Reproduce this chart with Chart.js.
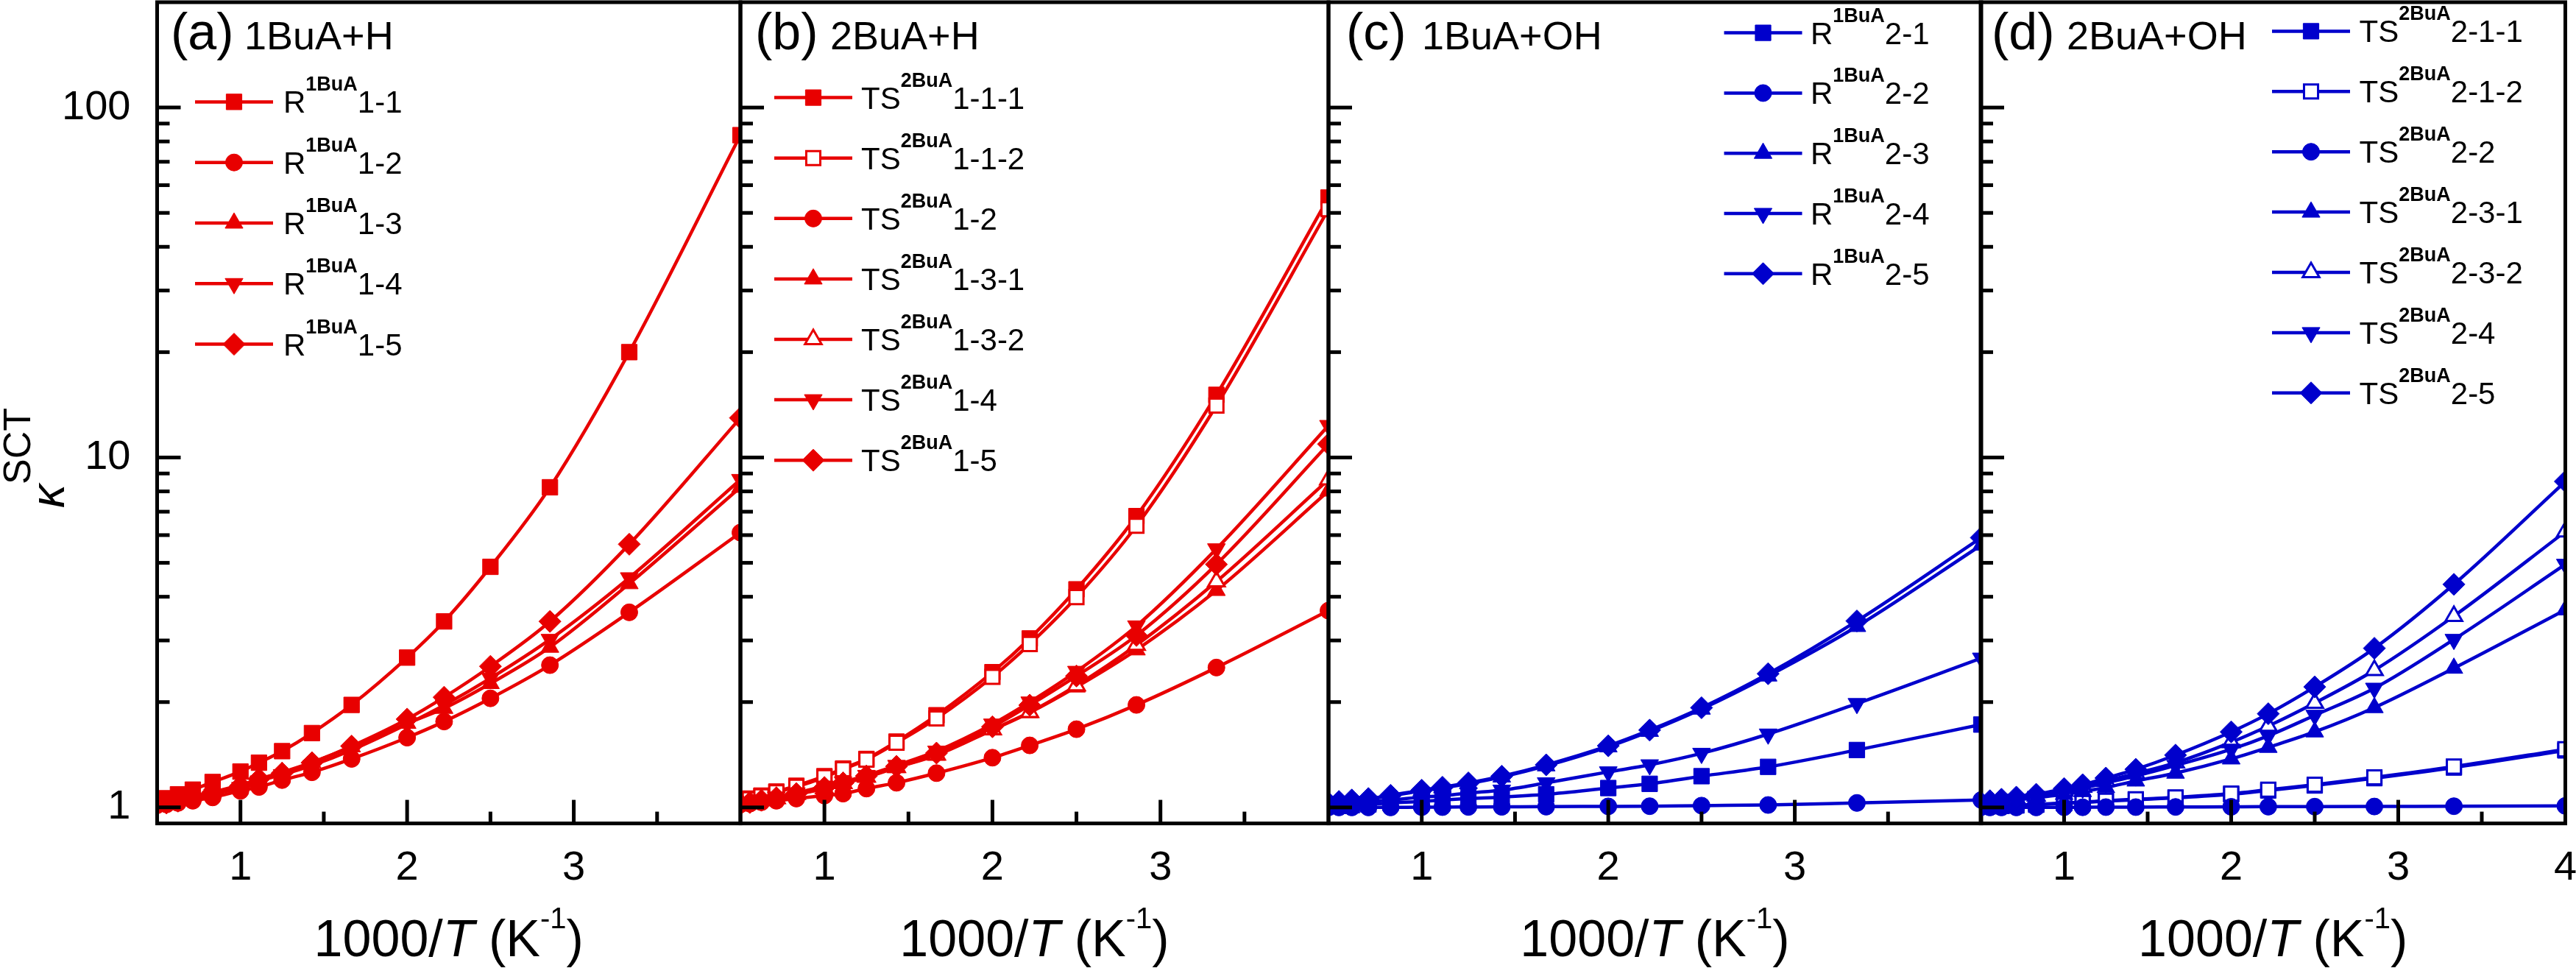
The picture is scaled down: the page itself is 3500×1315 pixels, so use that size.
<!DOCTYPE html>
<html lang="en">
<head>
    <meta charset="UTF-8">
    <title>Tunneling coefficients vs 1000/T</title>
    <script src="https://cdn.jsdelivr.net/npm/chart.js@4.4.1/dist/chart.umd.min.js"></script>
    <style>
        body { margin: 0; background: #fff; }
        #wrap { position: relative; width: 3500px; height: 1315px; overflow: hidden; }
        #wrap canvas { position: absolute; left: 0; top: 0; }
    </style>
</head>
<body>
    <div id="wrap">
        <canvas id="pa" width="3500" height="1315"></canvas>
        <canvas id="pb" width="3500" height="1315"></canvas>
        <canvas id="pc" width="3500" height="1315"></canvas>
        <canvas id="pd" width="3500" height="1315"></canvas>
    </div>

    <script>
        // 1000/T (K^-1) for T = 2000 ... 250 K
        const invT = [0.5, 0.556, 0.625, 0.714, 0.833, 1.0, 1.111, 1.25, 1.429, 1.667, 2.0, 2.222, 2.5, 2.857, 3.333, 4.0];

        // (a) 1BuA+H
        const kA11 = [1.04, 1.062, 1.09, 1.124, 1.182, 1.266, 1.342, 1.448, 1.631, 1.963, 2.68, 3.40, 4.87, 8.22, 20.0, 83.4];
        const kA12 = [1.015, 1.02, 1.03, 1.045, 1.068, 1.115, 1.144, 1.197, 1.26, 1.376, 1.583, 1.76, 2.05, 2.55, 3.61, 6.10];
        const kA13 = [1.02, 1.035, 1.05, 1.075, 1.105, 1.16, 1.205, 1.26, 1.345, 1.49, 1.74, 1.92, 2.26, 2.87, 4.36, 8.22];
        const kA14 = [1.015, 1.025, 1.04, 1.06, 1.09, 1.14, 1.19, 1.24, 1.318, 1.459, 1.73, 1.96, 2.34, 3.02, 4.53, 8.65];
        const kA15 = [1.02, 1.03, 1.042, 1.068, 1.104, 1.153, 1.206, 1.253, 1.342, 1.497, 1.788, 2.065, 2.53, 3.40, 5.65, 12.98];

        // (b) 2BuA+H
        const kB111 = [1.045, 1.06, 1.081, 1.11, 1.153, 1.228, 1.292, 1.376, 1.542, 1.834, 2.435, 3.04, 4.20, 6.80, 15.1, 55.3];
        const kB112 = [1.04, 1.055, 1.075, 1.105, 1.145, 1.22, 1.285, 1.37, 1.53, 1.796, 2.36, 2.93, 3.99, 6.38, 14.07, 51.2];
        const kB12 = [1.02, 1.025, 1.035, 1.045, 1.06, 1.081, 1.095, 1.132, 1.176, 1.253, 1.387, 1.504, 1.673, 1.963, 2.51, 3.65];
        const kB131 = [1.02, 1.03, 1.045, 1.06, 1.09, 1.13, 1.17, 1.22, 1.30, 1.41, 1.665, 1.866, 2.21, 2.82, 4.17, 8.02];
        const kB132 = [1.022, 1.032, 1.047, 1.062, 1.092, 1.133, 1.172, 1.223, 1.303, 1.415, 1.67, 1.87, 2.23, 2.91, 4.42, 8.65];
        const kB14 = [1.025, 1.035, 1.05, 1.07, 1.10, 1.15, 1.182, 1.234, 1.318, 1.448, 1.73, 2.00, 2.447, 3.30, 5.48, 12.34];
        const kB15 = [1.022, 1.033, 1.048, 1.066, 1.095, 1.14, 1.175, 1.23, 1.31, 1.43, 1.70, 1.96, 2.374, 3.10, 4.95, 10.92];

        // (c) 1BuA+OH
        const kC21 = [1.01, 1.01, 1.015, 1.02, 1.03, 1.04, 1.05, 1.06, 1.07, 1.09, 1.136, 1.168, 1.228, 1.306, 1.459, 1.725];
        const kC22 = [1.0, 1.0, 1.0, 1.0, 1.0, 1.002, 1.002, 1.003, 1.004, 1.005, 1.007, 1.008, 1.012, 1.016, 1.03, 1.05];
        const kC23 = [1.03, 1.04, 1.05, 1.06, 1.08, 1.115, 1.138, 1.17, 1.222, 1.315, 1.49, 1.65, 1.91, 2.375, 3.29, 5.62];
        const kC24 = [1.02, 1.025, 1.03, 1.04, 1.05, 1.07, 1.08, 1.10, 1.12, 1.175, 1.263, 1.323, 1.427, 1.62, 1.98, 2.67];
        const kC25 = [1.03, 1.04, 1.05, 1.06, 1.083, 1.12, 1.142, 1.175, 1.228, 1.323, 1.50, 1.663, 1.927, 2.41, 3.41, 5.90];

        // (d) 2BuA+OH
        const kD211 = [1.005, 1.008, 1.01, 1.013, 1.018, 1.027, 1.033, 1.042, 1.052, 1.065, 1.09, 1.118, 1.155, 1.212, 1.30, 1.455];
        const kD212 = [1.005, 1.01, 1.01, 1.015, 1.02, 1.03, 1.035, 1.045, 1.055, 1.068, 1.095, 1.124, 1.161, 1.219, 1.308, 1.466];
        const kD22 = [1.0, 1.0, 1.0, 1.0, 1.0, 1.001, 1.001, 1.002, 1.002, 1.003, 1.004, 1.005, 1.005, 1.006, 1.008, 1.01];
        const kD231 = [1.02, 1.03, 1.035, 1.05, 1.065, 1.09, 1.11, 1.14, 1.19, 1.253, 1.376, 1.485, 1.644, 1.929, 2.50, 3.67];
        const kD232 = [1.03, 1.035, 1.045, 1.06, 1.08, 1.115, 1.145, 1.19, 1.25, 1.342, 1.535, 1.708, 1.988, 2.466, 3.52, 6.14];
        const kD24 = [1.025, 1.03, 1.04, 1.055, 1.075, 1.105, 1.135, 1.175, 1.23, 1.318, 1.466, 1.602, 1.833, 2.19, 3.02, 4.95];
        const kD25 = [1.035, 1.045, 1.055, 1.07, 1.09, 1.132, 1.161, 1.213, 1.285, 1.411, 1.644, 1.852, 2.21, 2.85, 4.34, 8.54];

        // axis ticks
        const yMajorTicks = [1, 10, 100];
        const yMinorTicks = [2, 3, 4, 5, 6, 7, 8, 9, 20, 30, 40, 50, 60, 70, 80, 90];
        const xMajorTicks = [1, 2, 3];
        const xLabelsLast = [1, 2, 3, 4];
        const xMinorTicks = [1.5, 2.5, 3.5];

        const RED = '#e80000';
        const BLUE = '#0000cc';
        const FONT = "'Liberation Sans', Arial, sans-serif";

        const TOP = 3;
        const BOTTOM = 1118.6;
        const Y_W = 200;   // width of y scale box (panel a)
        const X_H = 100;   // height of x scale box

        // marker styles
        const markers = {
            square:     { style: 'rect',     r: 15,   rot: 0,   open: false },
            squareOpen: { style: 'rect',     r: 13.5, rot: 0,   open: true },
            circle:     { style: 'circle',   r: 11.5, rot: 0,   open: false },
            up:         { style: 'triangle', r: 14,   rot: 0,   open: false },
            upOpen:     { style: 'triangle', r: 13,   rot: 0,   open: true },
            down:       { style: 'triangle', r: 14,   rot: 180, open: false },
            diamond:    { style: 'rectRot',  r: 15,   rot: 0,   open: false }
        };

        const panels = [
            {
                canvas: 'pa', left: 213.5, right: 1006, color: RED,
                tag: '(a)', name: '1BuA+H', tagX: 232, nameX: 332,
                legLine: 265, legText: 385, legY: 138.4, legGap: 82.3,
                yLabels: true, xLabels: xMajorTicks,
                series: [
                    { pre: 'R', sup: '1BuA', post: '1-1', data: kA11, m: 'square' },
                    { pre: 'R', sup: '1BuA', post: '1-2', data: kA12, m: 'circle' },
                    { pre: 'R', sup: '1BuA', post: '1-3', data: kA13, m: 'up' },
                    { pre: 'R', sup: '1BuA', post: '1-4', data: kA14, m: 'down' },
                    { pre: 'R', sup: '1BuA', post: '1-5', data: kA15, m: 'diamond' }
                ]
            },
            {
                canvas: 'pb', left: 1006, right: 1805, color: RED,
                tag: '(b)', name: '2BuA+H', tagX: 1026, nameX: 1128,
                legLine: 1052, legText: 1170, legY: 132.6, legGap: 82.1,
                yLabels: false, xLabels: xMajorTicks,
                series: [
                    { pre: 'TS', sup: '2BuA', post: '1-1-1', data: kB111, m: 'square' },
                    { pre: 'TS', sup: '2BuA', post: '1-1-2', data: kB112, m: 'squareOpen' },
                    { pre: 'TS', sup: '2BuA', post: '1-2', data: kB12, m: 'circle' },
                    { pre: 'TS', sup: '2BuA', post: '1-3-1', data: kB131, m: 'up' },
                    { pre: 'TS', sup: '2BuA', post: '1-3-2', data: kB132, m: 'upOpen' },
                    { pre: 'TS', sup: '2BuA', post: '1-4', data: kB14, m: 'down' },
                    { pre: 'TS', sup: '2BuA', post: '1-5', data: kB15, m: 'diamond' }
                ]
            },
            {
                canvas: 'pc', left: 1805, right: 2692, color: BLUE,
                tag: '(c)', name: '1BuA+OH', tagX: 1829, nameX: 1932,
                legLine: 2342.5, legText: 2460, legY: 44.6, legGap: 81.8,
                yLabels: false, xLabels: xMajorTicks,
                series: [
                    { pre: 'R', sup: '1BuA', post: '2-1', data: kC21, m: 'square' },
                    { pre: 'R', sup: '1BuA', post: '2-2', data: kC22, m: 'circle' },
                    { pre: 'R', sup: '1BuA', post: '2-3', data: kC23, m: 'up' },
                    { pre: 'R', sup: '1BuA', post: '2-4', data: kC24, m: 'down' },
                    { pre: 'R', sup: '1BuA', post: '2-5', data: kC25, m: 'diamond' }
                ]
            },
            {
                canvas: 'pd', left: 2691, right: 3485.5, color: BLUE,
                tag: '(d)', name: '2BuA+OH', tagX: 2706, nameX: 2808,
                legLine: 3087, legText: 3205.6, legY: 42.4, legGap: 81.9,
                yLabels: false, xLabels: xLabelsLast,
                series: [
                    { pre: 'TS', sup: '2BuA', post: '2-1-1', data: kD211, m: 'square' },
                    { pre: 'TS', sup: '2BuA', post: '2-1-2', data: kD212, m: 'squareOpen' },
                    { pre: 'TS', sup: '2BuA', post: '2-2', data: kD22, m: 'circle' },
                    { pre: 'TS', sup: '2BuA', post: '2-3-1', data: kD231, m: 'up' },
                    { pre: 'TS', sup: '2BuA', post: '2-3-2', data: kD232, m: 'upOpen' },
                    { pre: 'TS', sup: '2BuA', post: '2-4', data: kD24, m: 'down' },
                    { pre: 'TS', sup: '2BuA', post: '2-5', data: kD25, m: 'diamond' }
                ]
            }
        ];

        // draw a run of text pieces, each with its own font and baseline shift
        function drawRuns(ctx, runs, x, y) {
            runs.forEach(r => {
                ctx.font = r.f;
                ctx.fillText(r.t, x, y + (r.dy || 0));
                x += ctx.measureText(r.t).width;
            });
            return x;
        }

        function runsWidth(ctx, runs) {
            let w = 0;
            runs.forEach(r => { ctx.font = r.f; w += ctx.measureText(r.t).width; });
            return w;
        }

        function line(ctx, x1, y1, x2, y2) {
            ctx.beginPath();
            ctx.moveTo(x1, y1);
            ctx.lineTo(x2, y2);
            ctx.stroke();
        }

        // frame, inward ticks, legend and titles
        function makeDecor(p) {
            return {
                id: 'decor_' + p.canvas,
                afterDraw(chart) {
                    const ctx = chart.ctx;
                    const area = chart.chartArea;
                    const xs = chart.scales.x;
                    const ys = chart.scales.y;
                    ctx.save();

                    // legend
                    p.series.forEach((s, i) => {
                        const mk = markers[s.m];
                        const y = p.legY + i * p.legGap;
                        ctx.strokeStyle = p.color;
                        ctx.lineWidth = 4.5;
                        line(ctx, p.legLine, y, p.legLine + 106, y);
                        ctx.fillStyle = mk.open ? '#fff' : p.color;
                        ctx.strokeStyle = p.color;
                        ctx.lineWidth = mk.open ? 3 : 1;
                        Chart.helpers.drawPoint(ctx, {
                            pointStyle: mk.style, radius: mk.r, rotation: mk.rot,
                            borderWidth: mk.open ? 3 : 1
                        }, p.legLine + 53, y);
                        ctx.fillStyle = '#000';
                        ctx.textBaseline = 'alphabetic';
                        ctx.textAlign = 'left';
                        drawRuns(ctx, [
                            { t: s.pre, f: `42px ${FONT}` },
                            { t: s.sup, f: `bold 27px ${FONT}`, dy: -30 },
                            { t: s.post, f: `42px ${FONT}` }
                        ], p.legText, y + 15);
                    });

                    // frame
                    ctx.strokeStyle = '#000';
                    ctx.lineWidth = 5;
                    ctx.strokeRect(area.left, area.top, area.right - area.left, area.bottom - area.top);

                    // inward ticks
                    yMajorTicks.forEach(v => {
                        const y = ys.getPixelForValue(v);
                        line(ctx, area.left, y, area.left + 32, y);
                    });
                    yMinorTicks.forEach(v => {
                        const y = ys.getPixelForValue(v);
                        line(ctx, area.left, y, area.left + 17, y);
                    });
                    xMajorTicks.forEach(v => {
                        const x = xs.getPixelForValue(v);
                        line(ctx, x, area.bottom, x, area.bottom - 32);
                    });
                    xMinorTicks.forEach(v => {
                        const x = xs.getPixelForValue(v);
                        line(ctx, x, area.bottom, x, area.bottom - 16);
                    });

                    // panel title
                    ctx.fillStyle = '#000';
                    ctx.textAlign = 'left';
                    ctx.textBaseline = 'alphabetic';
                    ctx.font = `70px ${FONT}`;
                    ctx.fillText(p.tag, p.tagX, 67);
                    ctx.font = `54px ${FONT}`;
                    ctx.fillText(p.name, p.nameX, 67);

                    // x axis title
                    const xt = [
                        { t: '1000/', f: `70px ${FONT}` },
                        { t: 'T', f: `italic 70px ${FONT}` },
                        { t: ' (K', f: `70px ${FONT}` },
                        { t: '-1', f: `40px ${FONT}`, dy: -38 },
                        { t: ')', f: `70px ${FONT}` }
                    ];
                    const cx = (area.left + area.right) / 2;
                    drawRuns(ctx, xt, cx - runsWidth(ctx, xt) / 2, 1299);

                    // y axis title (first panel only)
                    if (p.yLabels) {
                        ctx.save();
                        ctx.translate(87, 690);
                        ctx.rotate(-Math.PI / 2);
                        drawRuns(ctx, [
                            { t: '\u03BA', f: `italic 64px ${FONT}` },
                            { t: 'SCT', f: `52px ${FONT}`, dy: -46 }
                        ], 0, 0);
                        ctx.restore();
                    }
                    ctx.restore();
                }
            };
        }

        panels.forEach(p => {
            const n = p.series.length;
            const datasets = p.series.map((s, i) => {
                const mk = markers[s.m];
                return {
                    label: s.pre + s.sup + s.post,
                    data: invT.map((x, k) => ({ x: x, y: s.data[k] })),
                    borderColor: p.color,
                    borderWidth: 4.5,
                    pointStyle: mk.style,
                    pointRadius: mk.r,
                    pointRotation: mk.rot,
                    pointBackgroundColor: mk.open ? '#fff' : p.color,
                    pointBorderColor: p.color,
                    pointBorderWidth: mk.open ? 3 : 1,
                    cubicInterpolationMode: 'monotone',
                    clip: 0,
                    order: n - i
                };
            });

            new Chart(document.getElementById(p.canvas), {
                type: 'line',
                data: { datasets: datasets },
                options: {
                    responsive: false,
                    animation: false,
                    events: [],
                    layout: {
                        autoPadding: false,
                        padding: {
                            left: p.left - (p.yLabels ? Y_W : 0),
                            right: 3500 - p.right,
                            top: TOP,
                            bottom: 1315 - BOTTOM - X_H
                        }
                    },
                    plugins: {
                        legend: { display: false },
                        tooltip: { enabled: false }
                    },
                    scales: {
                        x: {
                            type: 'linear',
                            min: 0.5,
                            max: 4,
                            grid: { display: false, drawTicks: false },
                            border: { display: false },
                            afterBuildTicks: sc => { sc.ticks = p.xLabels.map(v => ({ value: v })); },
                            afterFit: sc => {
                                sc.height = X_H;
                                sc.paddingLeft = 0;
                                sc.paddingRight = 0;
                            },
                            ticks: {
                                padding: 27,
                                autoSkip: false,
                                maxRotation: 0,
                                color: '#000',
                                font: { family: FONT, size: 56 },
                                callback: v => String(v)
                            }
                        },
                        y: {
                            type: 'logarithmic',
                            min: 0.9,
                            max: 200,
                            display: p.yLabels,
                            grid: { display: false, drawTicks: false },
                            border: { display: false },
                            afterBuildTicks: sc => { sc.ticks = yMajorTicks.map(v => ({ value: v })); },
                            afterFit: sc => {
                                sc.width = p.yLabels ? Y_W : 0;
                                sc.paddingTop = 0;
                                sc.paddingBottom = 0;
                            },
                            ticks: {
                                padding: 36,
                                autoSkip: false,
                                color: '#000',
                                font: { family: FONT, size: 56 },
                                callback: v => String(v)
                            }
                        }
                    }
                },
                plugins: [makeDecor(p)]
            });
        });
    </script>
</body>
</html>
